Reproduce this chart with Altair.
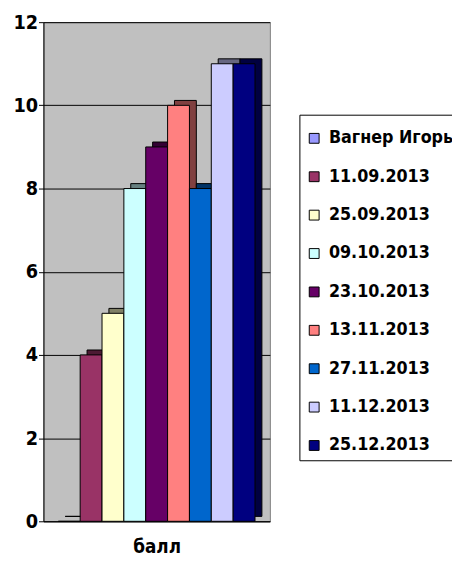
import altair as alt
import pandas as pd

series = ["Вагнер Игорь", "11.09.2013", "25.09.2013", "09.10.2013", "23.10.2013",
          "13.11.2013", "27.11.2013", "11.12.2013", "25.12.2013"]
values = [0, 4, 5, 8, 9, 10, 8, 11, 11]
colors = ["#9999FF", "#993366", "#FFFFCC", "#CCFFFF", "#660066",
          "#FF8080", "#0066CC", "#CCCCFF", "#000080"]
shades = ["#4D4D80", "#4D1A33", "#808066", "#668080", "#330033",
          "#804040", "#003366", "#666680", "#000040"]
y_ticks = [0, 2, 4, 6, 8, 10, 12]

df = pd.DataFrame({"series": series, "value": values, "shade": shades})

FONT = "DejaVu Sans Condensed, Liberation Sans Narrow, DejaVu Sans"

x_enc = alt.X("series:N", sort=series,
              scale=alt.Scale(paddingInner=0, paddingOuter=0.68),
              axis=alt.Axis(labels=False, ticks=False, title="балл",
                            titleFont=FONT, titleFontSize=19, titleFontWeight="bold",
                            titleColor="black", titlePadding=17,
                            domainColor="black", domainWidth=1))
y_enc = alt.Y("value:Q", scale=alt.Scale(domain=[0, 12], nice=False),
              axis=alt.Axis(values=y_ticks, title=None, labelFont=FONT,
                            labelFontSize=20, labelFontWeight="bold", labelColor="black",
                            tickColor="black", tickSize=5, labelPadding=1,
                            domainColor="black", gridColor="black", gridWidth=1))

back = alt.Chart(df).mark_bar(xOffset=7, yOffset=-5, stroke="black", strokeWidth=1).encode(
    x=x_enc, y=y_enc,
    fill=alt.Fill("shade:N", scale=None),
)

front = alt.Chart(df).mark_bar(stroke="black", strokeWidth=1).encode(
    x=x_enc, y=y_enc,
    fill=alt.Fill("series:N", sort=series,
                  scale=alt.Scale(domain=series, range=colors),
                  legend=alt.Legend(title=" ", titleFontSize=8, titlePadding=1,
                                    orient="none", legendX=260, legendY=94,
                                    symbolType="square", symbolSize=100,
                                    symbolStrokeColor="black", symbolStrokeWidth=1,
                                    labelFont=FONT, labelFontSize=18, labelFontWeight="bold",
                                    labelColor="black", labelLimit=300, labelOffset=6,
                                    rowPadding=21, padding=6,
                                    strokeColor="black", fillColor="white")),
)

chart = alt.layer(back, front).properties(
    width=230, height=507,
    autosize=alt.AutoSizeParams(type="none"),
    padding={"left": 36, "top": 10, "right": 185, "bottom": 40},
    background="white",
).configure_view(fill="#C0C0C0", stroke="#808080").configure_axis(
    labelFontWeight="bold", labelFont=FONT
)

chart.save("out.html", embed_options={"renderer": "svg", "actions": False})
